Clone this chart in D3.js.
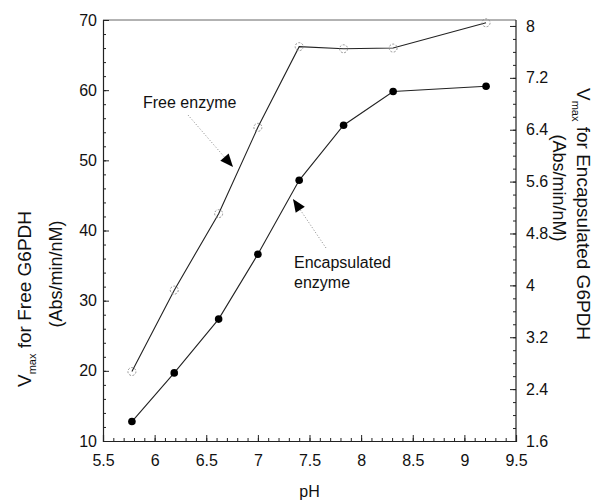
<!DOCTYPE html>
<html><head><meta charset="utf-8">
<script src="https://cdn.jsdelivr.net/npm/d3@7/dist/d3.min.js"></script>
<style>
body{margin:0;background:#fff;}
text{font-family:Arial,"Liberation Sans",sans-serif;fill:#111;}
</style></head>
<body><svg id="c" width="605" height="502"></svg>
<script>
const pH = [5.78, 6.19, 6.62, 7.0, 7.4, 7.83, 8.31, 9.21];
const freeVmax = [19.9, 31.5, 42.4, 54.7, 66.2, 65.9, 66.0, 69.6];
const encapVmax = [1.90, 2.65, 3.48, 4.48, 5.62, 6.47, 6.99, 7.07];
const xTicks = [5.5, 6, 6.5, 7, 7.5, 8, 8.5, 9, 9.5];
const yLeftTicks = [10, 20, 30, 40, 50, 60, 70];
const yRightTicks = [1.6, 2.4, 3.2, 4, 4.8, 5.6, 6.4, 7.2, 8];

const svg = d3.select("#c");
const L = 103, R = 516, T = 20, B = 441;
const x = d3.scaleLinear([5.5, 9.5], [L, R]);
const yL = d3.scaleLinear([10, 70], [B, T]);
const yR = d3.scaleLinear([1.6, 8.092], [B, T]);
const fmt = d => String(+d.toFixed(1));

// top frame
svg.append("line").attr("x1", L).attr("x2", R).attr("y1", T).attr("y2", T)
  .attr("stroke", "#666").attr("stroke-width", 1);

function styleAxis(g) {
  g.selectAll("path.domain").attr("stroke", "#222").attr("stroke-width", 1.2);
  g.selectAll(".tick line").attr("stroke", "#222");
  g.selectAll("text").style("font-size", "16px").attr("fill", "#111");
}
const xMinor = d3.range(55, 96).map(v => v / 10);
const yLMinor = d3.range(10, 71, 2);
const yRMinor = d3.range(16, 81, 2).map(v => v / 10);

svg.append("g").attr("transform", `translate(0,${B})`)
  .call(d3.axisBottom(x).tickValues(xMinor).tickSize(-3).tickFormat(""))
  .call(g => g.select(".domain").remove()).call(styleAxis);
svg.append("g").attr("transform", `translate(0,${B})`)
  .call(d3.axisBottom(x).tickValues(xTicks).tickSize(-6).tickPadding(14).tickFormat(fmt))
  .call(styleAxis);

svg.append("g").attr("transform", `translate(${L},0)`)
  .call(d3.axisLeft(yL).tickValues(yLMinor).tickSize(-3).tickFormat(""))
  .call(g => g.select(".domain").remove()).call(styleAxis);
svg.append("g").attr("transform", `translate(${L},0)`)
  .call(d3.axisLeft(yL).tickValues(yLeftTicks).tickSize(-6).tickPadding(6).tickFormat(fmt))
  .call(styleAxis);

svg.append("g").attr("transform", `translate(${R},0)`)
  .call(d3.axisRight(yR).tickValues(yRMinor).tickSize(-3).tickFormat(""))
  .call(g => g.select(".domain").remove()).call(styleAxis);
svg.append("g").attr("transform", `translate(${R},0)`)
  .call(d3.axisRight(yR).tickValues(yRightTicks).tickSize(-6).tickPadding(10).tickFormat(fmt))
  .call(g => g.select(".domain").attr("d", `M0,${T}V${B}`))
  .call(styleAxis);

// series
const freeData = pH.map((p, i) => [p, freeVmax[i]]);
const encData = pH.map((p, i) => [p, encapVmax[i]]);
svg.append("path").datum(freeData)
  .attr("d", d3.line().x(d => x(d[0])).y(d => yL(d[1])))
  .attr("fill", "none").attr("stroke", "#222").attr("stroke-width", 1.1);
svg.append("path").datum(encData)
  .attr("d", d3.line().x(d => x(d[0])).y(d => yR(d[1])))
  .attr("fill", "none").attr("stroke", "#222").attr("stroke-width", 1.1);
svg.selectAll("circle.free").data(freeData).join("circle").attr("class", "free")
  .attr("cx", d => x(d[0])).attr("cy", d => yL(d[1])).attr("r", 4)
  .attr("fill", "none").attr("stroke", "#888").attr("stroke-width", 0.9)
  .attr("stroke-dasharray", "2,1.5");
svg.selectAll("circle.enc").data(encData).join("circle").attr("class", "enc")
  .attr("cx", d => x(d[0])).attr("cy", d => yR(d[1])).attr("r", 3.8)
  .attr("fill", "#000");

// annotations
function arrow(x1, y1, x2, y2) {
  svg.append("line").attr("x1", x1).attr("y1", y1).attr("x2", x2).attr("y2", y2)
    .attr("stroke", "#888").attr("stroke-width", 1).attr("stroke-dasharray", "1,2");
  const dx = x2 - x1, dy = y2 - y1, len = Math.hypot(dx, dy);
  const ux = dx / len, uy = dy / len, hl = 13, hw = 5.5;
  const bx = x2 - ux * hl, by = y2 - uy * hl;
  svg.append("path")
    .attr("d", `M${x2},${y2}L${bx - uy * hw},${by + ux * hw}L${bx + uy * hw},${by - ux * hw}Z`)
    .attr("fill", "#000");
}
svg.append("text").attr("x", 143).attr("y", 108).style("font-size", "16px").text("Free enzyme");
arrow(188, 115, 233, 167);
svg.append("text").attr("x", 294).attr("y", 268).style("font-size", "16px").text("Encapsulated");
svg.append("text").attr("x", 294).attr("y", 288).style("font-size", "16px").text("enzyme");
arrow(326, 248, 293, 199);

// axis titles
svg.append("text").attr("x", (L + R) / 2).attr("y", 497).attr("text-anchor", "middle")
  .style("font-size", "16px").text("pH");

const lt = svg.append("text").attr("transform", "translate(31,387) rotate(-90)")
  .style("font-size", "19px");
lt.append("tspan").text("V");
lt.append("tspan").attr("dy", 5).style("font-size", "11px").text("max");
lt.append("tspan").attr("dy", -5).text(" for Free G6PDH");
svg.append("text").attr("transform", "translate(62,274) rotate(-90)")
  .attr("text-anchor", "middle").style("font-size", "18px").text("(Abs/min/nM)");

const rt = svg.append("text").attr("transform", "translate(577,88) rotate(90)")
  .style("font-size", "19px");
rt.append("tspan").text("V");
rt.append("tspan").attr("dy", 5).style("font-size", "11px").text("max");
rt.append("tspan").attr("dy", -5).text(" for Encapsulated G6PDH");
svg.append("text").attr("transform", "translate(553,188) rotate(90)")
  .attr("text-anchor", "middle").style("font-size", "18px").text("(Abs/min/nM)");
</script></body></html>
